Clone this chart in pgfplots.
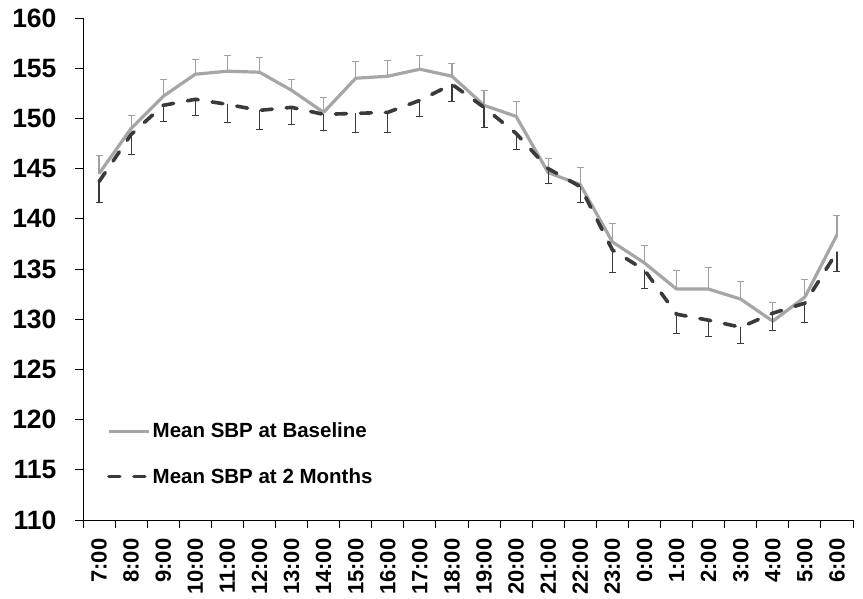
\documentclass[border=0pt]{standalone}
\usepackage{pgfplots}
\usepackage{pgfplotstable}
\pgfplotsset{compat=1.18}
\usepackage{fontspec}
\setmainfont{Liberation Sans}
\definecolor{basegray}{HTML}{A6A6A6}
\definecolor{errgray}{HTML}{A0A0A0}
\definecolor{darkg}{HTML}{3A3A3A}
\pgfplotstableread{
x y e
0 144.5 1.8
1 149.0 1.3
2 152.2 1.7
3 154.4 1.5
4 154.7 1.6
5 154.6 1.5
6 152.8 1.1
7 150.6 1.5
8 154.0 1.7
9 154.2 1.6
10 154.9 1.4
11 154.2 1.3
12 151.3 1.5
13 150.2 1.5
14 144.6 1.4
15 143.4 1.7
16 137.7 1.85
17 135.6 1.7
18 133.0 1.9
19 133.0 2.1
20 132.0 1.8
21 129.8 1.9
22 132.2 1.8
23 138.4 1.9
}\baseline
\pgfplotstableread{
x y e
0 143.7 2.1
1 148.4 2.0
2 151.3 1.6
3 151.9 1.6
4 151.4 1.8
5 150.8 1.9
6 151.1 1.7
7 150.4 1.65
8 150.5 1.9
9 150.6 2.0
10 151.8 1.6
11 153.4 1.7
12 151.1 2.0
13 148.5 1.6
14 145.0 1.5
15 143.2 1.6
16 136.9 2.2
17 134.9 1.8
18 130.5 1.9
19 129.9 1.6
20 129.2 1.6
21 130.6 1.7
22 131.6 1.95
23 136.7 1.9
}\twomonths
\begin{document}
\begin{tikzpicture}
\begin{axis}[
  scale only axis,
  width=770pt, height=502pt,
  xmin=-0.5, xmax=23.5,
  ymin=110, ymax=160,
  axis x line*=bottom, axis y line*=left,
  axis line style={black, line width=0.9pt},
  ytick={110,115,...,160},
  xtick={0,...,23},
  xticklabels={7:00,8:00,9:00,10:00,11:00,12:00,13:00,14:00,15:00,16:00,17:00,18:00,19:00,20:00,21:00,22:00,23:00,0:00,1:00,2:00,3:00,4:00,5:00,6:00},
  minor xtick={-0.5,0.5,...,23.5},
  major x tick style={draw=none},
  minor tick length=8pt,
  major tick length=8pt,
  tick align=outside,
  tick style={black, line width=0.9pt},
  /pgf/number format/assume math mode=true,
  yticklabel style={font=\fontsize{26.5}{26.5}\selectfont\bfseries, xshift=-15pt},
  xticklabel style={font=\fontsize{22}{22}\selectfont\bfseries, rotate=90, anchor=east, xshift=-7pt},
  legend style={draw=none, fill=none, at={(0.031,0.066)}, anchor=south west,
    font=\fontsize{20.5}{20.5}\selectfont\bfseries, row sep=25pt, inner sep=0pt},
  legend cell align=left,
  legend image code/.code={\draw[#1] (0pt,0pt) -- (40pt,0pt);},
  clip=false,
]
\addplot[basegray, line width=3.2pt, line join=round,
  error bars/.cd, y dir=plus, y explicit,
  error bar style={errgray, line width=1.2pt},
  error mark options={rotate=90, mark size=3.5pt, errgray, line width=1pt}]
  table[x=x, y=y, y error=e] {\baseline};
\addlegendentry{Mean SBP at Baseline}
\addplot[darkg, line width=3.6pt, line cap=round, dash pattern=on 11pt off 14pt,
  error bars/.cd, y dir=minus, y explicit,
  error bar style={darkg, line width=1.2pt, solid},
  error mark options={rotate=90, mark size=3.5pt, darkg, line width=1pt, solid}]
  table[x=x, y=y, y error=e] {\twomonths};
\addlegendentry{Mean SBP at 2 Months}
\end{axis}
\path (current axis.south west) +(-83pt,-77pt) (current axis.north east) +(10pt,18pt);
\end{tikzpicture}
\end{document}
